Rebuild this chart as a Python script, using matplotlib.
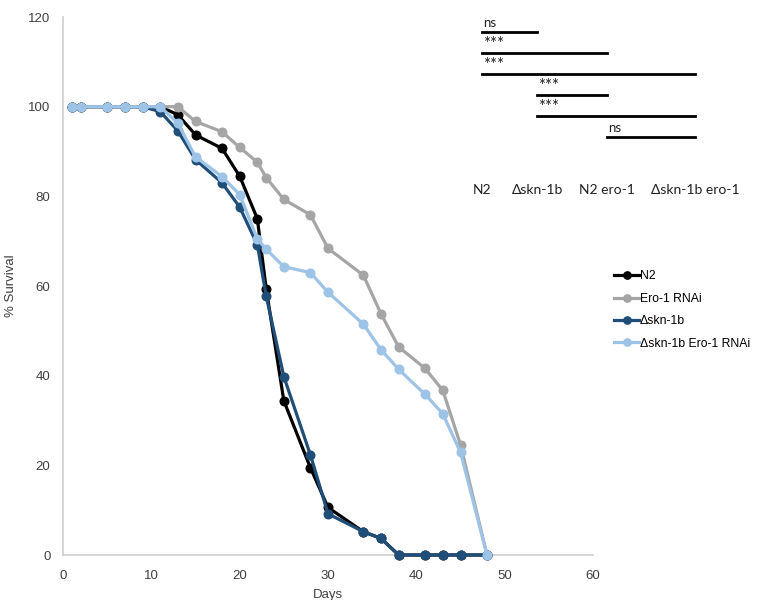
import matplotlib.pyplot as plt
import matplotlib
from matplotlib.lines import Line2D

matplotlib.rcParams['font.family'] = ['Liberation Sans', 'DejaVu Sans']

# =====================================================================
# DATA
# =====================================================================
days = [1, 2, 5, 7, 9, 11, 13, 15, 18, 20, 22, 23, 25, 28, 30, 34, 36, 38, 41, 43, 45, 48]

n2 = [100, 100, 100, 100, 100, 100, 98.2, 93.7, 90.7, 84.5, 75.0, 59.4, 34.4, 19.5, 10.6,
      5.2, 3.7, 0, 0, 0, 0, 0]
ero1 = [100, 100, 100, 100, 100, 100, 100, 96.7, 94.4, 90.9, 87.6, 84.2, 79.3, 75.9, 68.4,
        62.4, 53.8, 46.4, 41.6, 36.7, 24.6, 0]
skn1b = [100, 100, 100, 100, 100, 98.9, 94.6, 88.2, 83.0, 77.6, 69.2, 57.8, 39.8, 22.4, 9.2,
         5.2, 3.7, 0, 0, 0, 0, 0]
skn1b_ero1 = [100, 100, 100, 100, 100, 100, 96.3, 88.8, 84.4, 80.4, 70.5, 68.2, 64.3, 63.0,
              58.6, 51.5, 45.8, 41.4, 35.8, 31.5, 22.9, 0]

series_names = ['N2', 'Ero-1 RNAi', 'Δskn-1b', 'Δskn-1b Ero-1 RNAi']
series_colors = ['#000000', '#A5A5A5', '#1F4E79', '#9DC3E6']

# significance annotation
group_labels = ['N2', 'Δskn-1b', 'N2 ero-1', 'Δskn-1b ero-1']
comparisons = [(0, 1, 'ns'), (0, 2, '***'), (0, 3, '***'),
               (1, 2, '***'), (1, 3, '***'), (2, 3, 'ns')]

# =====================================================================
# PLOT
# =====================================================================
fig = plt.figure(figsize=(7.73, 6.0), dpi=100)
ax = fig.add_axes([63 / 773, 1 - 555 / 600, 530 / 773, 538 / 600])

for vals, name, col in zip([n2, ero1, skn1b, skn1b_ero1], series_names, series_colors):
    ax.plot(days, vals, color=col, lw=2.3, marker='o', ms=6.2, label=name,
            clip_on=False, zorder=3)

ax.set_xlim(0, 60)
ax.set_ylim(0, 120)
ax.set_xticks(range(0, 61, 10))
ax.set_yticks(range(0, 121, 20))
ax.tick_params(length=0, labelsize=9.5, colors='#404040')
ax.tick_params(axis='x', pad=11)
ax.tick_params(axis='y', pad=9)
for s in ['top', 'right']:
    ax.spines[s].set_visible(False)
for s in ['left', 'bottom']:
    ax.spines[s].set_color('#D0D0D0')
    ax.spines[s].set_linewidth(1.2)
ax.set_xlabel('Days', fontsize=9.5, color='#404040', labelpad=5)
ax.set_ylabel('% Survival', fontsize=9.5, color='#404040')
ax.yaxis.set_label_coords(17 / 773, 1 - 286 / 600, transform=fig.transFigure)

ax.legend(loc='upper left', bbox_to_anchor=(612 / 773, 1 - 268 / 600),
          bbox_transform=fig.transFigure, frameon=False, fontsize=8.8,
          handlelength=2.0, handletextpad=0.1, labelspacing=0.85,
          borderaxespad=0, borderpad=0.2, markerscale=0.85)

# overlay in pixel units for the significance bars
ov = fig.add_axes([0, 0, 1, 1])
ov.set_xlim(0, 773)
ov.set_ylim(600, 0)
ov.axis('off')

label_x = [482, 537, 607, 695]
row_y0, row_step = 32, 21
sig_font = ['Lato', 'DejaVu Sans']
for k, (i, j, txt) in enumerate(comparisons):
    y = row_y0 + k * row_step
    ov.add_line(Line2D([label_x[i], label_x[j]], [y, y], color='black', lw=2))
    if txt == 'ns':
        ov.text(label_x[i] + 1, y - 3, txt, fontsize=9.5,
                ha='left', va='bottom', family=sig_font, color='#202020')
    else:
        ov.text(label_x[i] + 1, y - 1, txt, fontsize=12,
                ha='left', va='bottom', family=sig_font, color='#202020')

for x, lab in zip(label_x, group_labels):
    ov.text(x, 190, lab, fontsize=10, ha='center', va='center',
            family=sig_font, color='#202020')

fig.savefig('out.png', dpi=100)
